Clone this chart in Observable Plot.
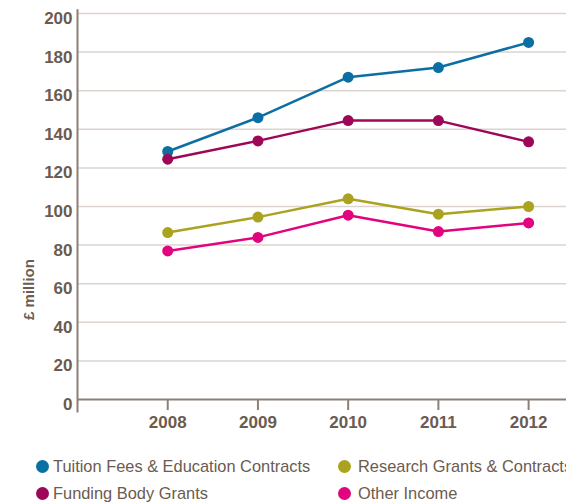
<!DOCTYPE html>
<html>
<head>
<meta charset="utf-8">
<script src="https://cdn.jsdelivr.net/npm/d3@7"></script>
<script src="https://cdn.jsdelivr.net/npm/@observablehq/plot@0.6"></script>
<style>
  html, body { margin: 0; padding: 0; background: #fff; overflow: hidden; width: 566px; }
  #legend { position: relative; height: 64px; font-family: "Liberation Sans", Arial, sans-serif; font-size: 16.4px; color: #6b5b50; white-space: nowrap; }
  .item { position: absolute; display: flex; align-items: center; }
  .sw { width: 13px; height: 13px; border-radius: 50%; }
</style>
</head>
<body>
<div id="chart"></div>
<div id="legend"></div>
<script>
const years = [2008, 2009, 2010, 2011, 2012];
const seriesNames = ["Tuition Fees & Education Contracts", "Research Grants & Contracts", "Funding Body Grants", "Other Income"];
const seriesColors = ["#0b6fa4", "#aba31f", "#9e0758", "#e2037f"];
const tuition = [128.5, 146, 167, 172, 185];
const research = [86.5, 94.5, 104, 96, 100];
const funding = [124.5, 134, 144.5, 144.5, 133.5];
const other = [77, 84, 95.5, 87, 91.5];
const yTicks = [0, 20, 40, 60, 80, 100, 120, 140, 160, 180, 200];
const yLabel = "£ million";

const valuesBySeries = [tuition, research, funding, other];
const data = [];
seriesNames.forEach((s, i) => years.forEach((y, j) => data.push({series: s, year: y, value: valuesBySeries[i][j]})));

const textColor = "#6b5b50";
const axisColor = "#8c7f77";
const gridColor = "#ddd4cf";

const chart = Plot.plot({
  width: 566,
  height: 440,
  marginLeft: 77,
  marginRight: 0,
  marginTop: 13,
  marginBottom: 41,
  style: {fontFamily: "'Liberation Sans', Arial, sans-serif", color: textColor, background: "#fff"},
  x: {domain: [2007, 2012.42]},
  y: {domain: [0, 200]},
  color: {domain: seriesNames, range: seriesColors},
  marks: [
    Plot.gridY(yTicks.filter(v => v > 0), {stroke: gridColor, strokeOpacity: 1, strokeWidth: 1.5}),
    Plot.ruleY([0], {stroke: axisColor, strokeWidth: 2}),
    Plot.ruleX([2007], {y1: -7, y2: 202, stroke: axisColor, strokeWidth: 2}),
    Plot.axisY({ticks: yTicks, tickSize: 0, tickPadding: 5, fontSize: 17, fontWeight: "bold", fill: textColor, dy: 5, label: null}),
    Plot.axisX({ticks: years, tickFormat: d => String(d), tickSize: 11, tickPadding: 5, stroke: axisColor, strokeWidth: 2, fontSize: 17, fontWeight: "bold", fill: textColor, label: null}),
    Plot.text([yLabel], {text: d => d, frameAnchor: "left", textAnchor: "middle", y: [57], dx: -48, rotate: -90, fontSize: 15, fontWeight: "bold", fill: textColor}),
    Plot.line(data, {x: "year", y: "value", z: "series", stroke: "series", strokeWidth: 2.5}),
    Plot.dot(data, {x: "year", y: "value", fill: "series", r: 5.5})
  ]
});
document.getElementById("chart").appendChild(chart);

const legend = document.getElementById("legend");
// [swatch left, row center, gap to text]
const positions = [[36, 26, 4], [338, 26, 7], [36, 53, 4], [338, 53, 7]];
seriesNames.forEach((s, i) => {
  const it = document.createElement("div");
  it.className = "item";
  it.style.left = positions[i][0] + "px";
  it.style.top = (positions[i][1] - 10) + "px";
  it.style.height = "20px";
  it.innerHTML = `<span class="sw" style="background:${seriesColors[i]};margin-right:${positions[i][2]}px"></span><span>${s}</span>`;
  legend.appendChild(it);
});
</script>
</body>
</html>
